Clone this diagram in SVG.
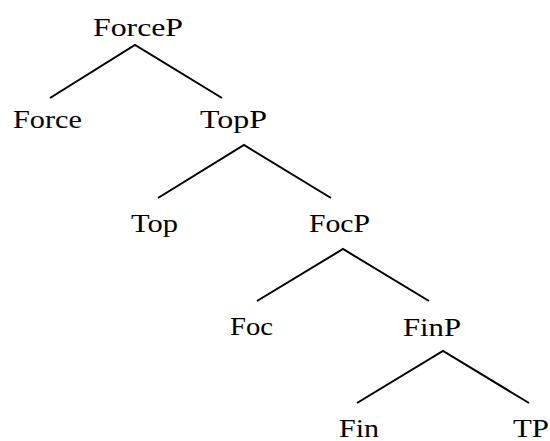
<svg xmlns="http://www.w3.org/2000/svg" width="550" height="441" viewBox="0 0 550 441">
<style>
text{font-family:"Liberation Serif","Times New Roman",serif;font-size:25px;fill:#000}
.e{stroke:#000;stroke-width:2;fill:none;stroke-linecap:butt}
</style>
<rect width="550" height="441" fill="#fff"/>
<g id="connectors">
<polyline class="e" points="50,98 135,45 222,98"/>
<polyline class="e" points="158,198 244,145 331,198"/>
<polyline class="e" points="257,301 343,249 429,301"/>
<polyline class="e" points="357,403 443,351 529,403"/>
</g>
<g id="n-ForceP"><text x="93" y="36" textLength="90" lengthAdjust="spacingAndGlyphs">ForceP</text></g>
<g id="n-Force"><text x="13" y="128" textLength="69" lengthAdjust="spacingAndGlyphs">Force</text></g>
<g id="n-TopP"><text x="200" y="128" textLength="67" lengthAdjust="spacingAndGlyphs">TopP</text></g>
<g id="n-Top"><text x="131" y="232" textLength="47" lengthAdjust="spacingAndGlyphs">Top</text></g>
<g id="n-FocP"><text x="309" y="232" textLength="61" lengthAdjust="spacingAndGlyphs">FocP</text></g>
<g id="n-Foc"><text x="230" y="335" textLength="43" lengthAdjust="spacingAndGlyphs">Foc</text></g>
<g id="n-FinP"><text x="403" y="336" textLength="58" lengthAdjust="spacingAndGlyphs">FinP</text></g>
<g id="n-Fin"><text x="339" y="437" textLength="40" lengthAdjust="spacingAndGlyphs">Fin</text></g>
<g id="n-TP"><text x="513" y="437" textLength="36" lengthAdjust="spacingAndGlyphs">TP</text></g>
</svg>
